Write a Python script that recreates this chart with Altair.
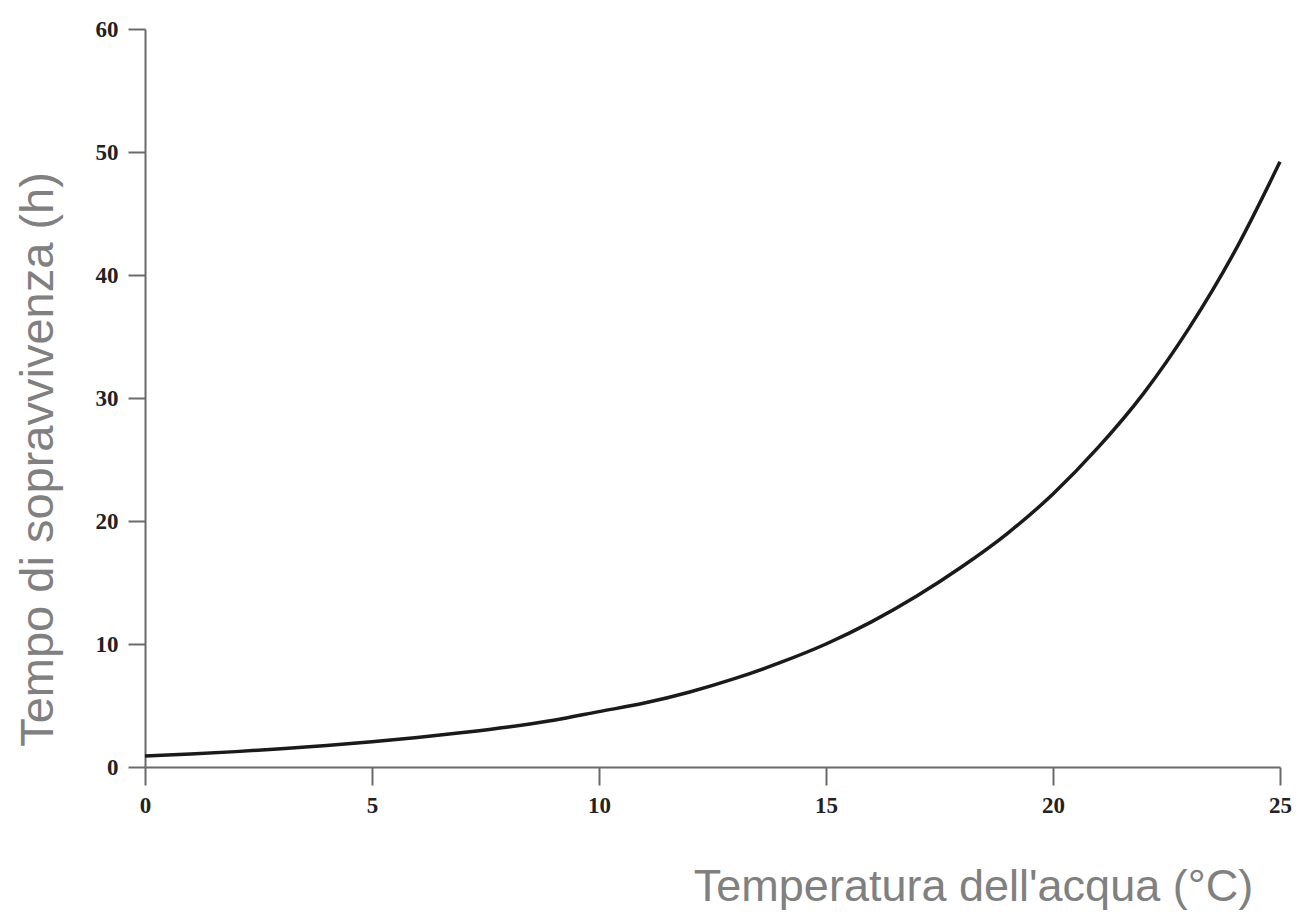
import altair as alt
import pandas as pd

temperature = [0, 1, 2, 3, 4, 5, 6, 7, 8, 9, 10, 11, 12, 13, 14, 15, 16, 17, 18, 19, 20, 21, 22, 23, 24, 25]
survival = [0.89, 1.05, 1.25, 1.48, 1.75, 2.05, 2.4, 2.8, 3.25, 3.8, 4.5, 5.2, 6.1, 7.2, 8.5, 10.0,
            11.8, 13.9, 16.3, 19.0, 22.2, 26.0, 30.4, 35.7, 41.9, 49.2]
x_ticks = [0, 5, 10, 15, 20, 25]
y_ticks = [0, 10, 20, 30, 40, 50, 60]

df = pd.DataFrame({"t": temperature, "s": survival})

axis_common = dict(
    grid=False,
    domainColor="#6a6a6a",
    domainWidth=2,
    tickColor="#6a6a6a",
    tickWidth=2,
    labelFont="Liberation Serif",
    labelFontWeight="bold",
    labelFontSize=23,
    labelColor="#222222",
    labelFlush=False,
    titleFont="Liberation Sans",
    titleFontWeight="normal",
    titleColor="#808080",
)

chart = alt.Chart(df).mark_line(
    color="#1a1a1a", strokeWidth=3.5, interpolate="monotone"
).encode(
    x=alt.X(
        "t:Q",
        scale=alt.Scale(domain=[0, 25], nice=False, zero=True),
        axis=alt.Axis(
            values=x_ticks,
            title="Temperatura dell'acqua (°C)",
            titleFontSize=45,
            titleX=828,
            titleY=133,
            titleAlign="center",
            titleBaseline="alphabetic",
            tickSize=18,
            labelPadding=9,
            **axis_common,
        ),
    ),
    y=alt.Y(
        "s:Q",
        scale=alt.Scale(domain=[0, 60], nice=False),
        axis=alt.Axis(
            values=y_ticks,
            title="Tempo di sopravvivenza (h)",
            titleFontSize=47,
            titleAngle=270,
            titleX=-93,
            titleY=430,
            titleAlign="center",
            titleBaseline="alphabetic",
            tickSize=17,
            labelPadding=10,
            **axis_common,
        ),
    ),
).properties(
    width=1135,
    height=738,
    autosize=alt.AutoSizeParams(type="none"),
    padding={"left": 137, "top": 21, "right": 15, "bottom": 148},
    background="white",
).configure_view(strokeWidth=0)

chart.save("out.html", embed_options={"renderer": "svg", "actions": False})
